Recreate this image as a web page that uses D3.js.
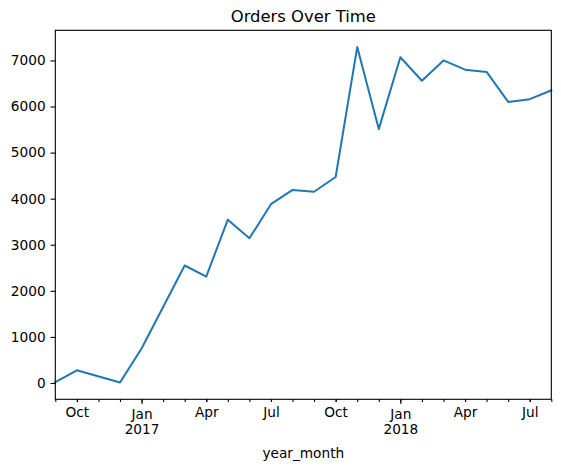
<!DOCTYPE html>
<html>
<head>
<meta charset="utf-8">
<script src="https://cdn.jsdelivr.net/npm/d3@7"></script>
<style>
  body { margin: 0; background: #fff; }
  text { font-family: "DejaVu Sans", sans-serif; fill: #000; }
</style>
</head>
<body>
<div class="canva"></div>
<script>
const width = 561
const height = 469

// orders per month (Nov 2016 missing in the source data)
const months = ["2016-09", "2016-10", "2016-12",
  "2017-01", "2017-02", "2017-03", "2017-04", "2017-05", "2017-06",
  "2017-07", "2017-08", "2017-09", "2017-10", "2017-11", "2017-12",
  "2018-01", "2018-02", "2018-03", "2018-04", "2018-05", "2018-06",
  "2018-07", "2018-08"]
const orders = [20, 275, 10,
  750, 1650, 2550, 2310, 3545, 3140,
  3880, 4190, 4150, 4470, 7290, 5510,
  7070, 6560, 7000, 6800, 6750, 6100,
  6160, 6350]
const yTicks = [0, 1000, 2000, 3000, 4000, 5000, 6000, 7000]
const monthNames = ["Jan", "Feb", "Mar", "Apr", "May", "Jun", "Jul", "Aug", "Sep", "Oct", "Nov", "Dec"]

const margin = { top: 30.3, right: 9.7, bottom: 69.7, left: 55.3 }
const w = width - margin.left - margin.right
const h = height - margin.top - margin.bottom

// month index so every month gets the same width, like pandas period axis
function idx(s) {
  const p = s.split("-")
  return +p[0] * 12 + (+p[1] - 1)
}

const data = months.map((m, i) => ({ t: idx(m), v: orders[i] }))

const x = d3.scaleLinear()
  .domain([idx(months[0]), idx(months[months.length - 1])])
  .range([0, w])

const vmin = d3.min(orders), vmax = d3.max(orders)
const pad = (vmax - vmin) * 0.05
const y = d3.scaleLinear().domain([vmin - pad, vmax + pad]).range([h, 0])

const svg = d3.select(".canva").append("svg")
  .attr("width", width).attr("height", height)

const g = svg.append("g").attr("transform", `translate(${margin.left},${margin.top})`)

const allMonths = d3.range(x.domain()[0], x.domain()[1] + 1)
const quarterMonths = allMonths.filter(d => d % 3 === 0)

// minor ticks every month
g.append("g")
  .attr("transform", `translate(0,${h})`)
  .call(d3.axisBottom(x).tickValues(allMonths).tickSize(2.7).tickFormat(""))
  .call(a => a.select(".domain").remove())
  .call(a => a.selectAll("line").attr("stroke", "#000").attr("stroke-width", 1.1))

// labelled ticks
const xAxis = g.append("g")
  .attr("transform", `translate(0,${h})`)
  .call(d3.axisBottom(x).tickValues(quarterMonths)
    .tickSize(d => 2.7)
    .tickPadding(4.8)
    .tickFormat(d => monthNames[d % 12]))
xAxis.select(".domain").remove()
xAxis.selectAll("line").attr("stroke", "#000").attr("stroke-width", 1.1)
  .attr("y2", d => d % 12 === 0 ? 4.8 : 2.7)
xAxis.selectAll("text")
  .attr("font-size", 13.7)
  .attr("y", d => d % 12 === 0 ? 9.6 : 7.5)
  .each(function (d) {
    if (d % 12 === 0) {
      d3.select(this).append("tspan")
        .attr("x", 0).attr("dy", "1.15em")
        .text(Math.floor(d / 12))
    }
  })

// y axis
const yAxis = g.append("g")
  .call(d3.axisLeft(y).tickValues(yTicks).tickSize(4.8).tickPadding(4.8).tickFormat(d3.format("d")))
yAxis.select(".domain").remove()
yAxis.selectAll("line").attr("stroke", "#000").attr("stroke-width", 1.1)
yAxis.selectAll("text").attr("font-size", 13.7)

// the line
const line = d3.line().x(d => x(d.t)).y(d => y(d.v))
g.append("path")
  .datum(data)
  .attr("fill", "none")
  .attr("stroke", "#1f77b4")
  .attr("stroke-width", 2)
  .attr("stroke-linejoin", "round")
  .attr("stroke-linecap", "square")
  .attr("d", line)

// frame
g.append("rect")
  .attr("width", w).attr("height", h)
  .attr("fill", "none").attr("stroke", "#000").attr("stroke-width", 1.1)

// title and axis label
svg.append("text")
  .attr("x", margin.left + w / 2).attr("y", 22)
  .attr("text-anchor", "middle").attr("font-size", 16.4)
  .text("Orders Over Time")

svg.append("text")
  .attr("x", margin.left + w / 2).attr("y", 458)
  .attr("text-anchor", "middle").attr("font-size", 13.7)
  .text("year_month")
</script>
</body>
</html>
